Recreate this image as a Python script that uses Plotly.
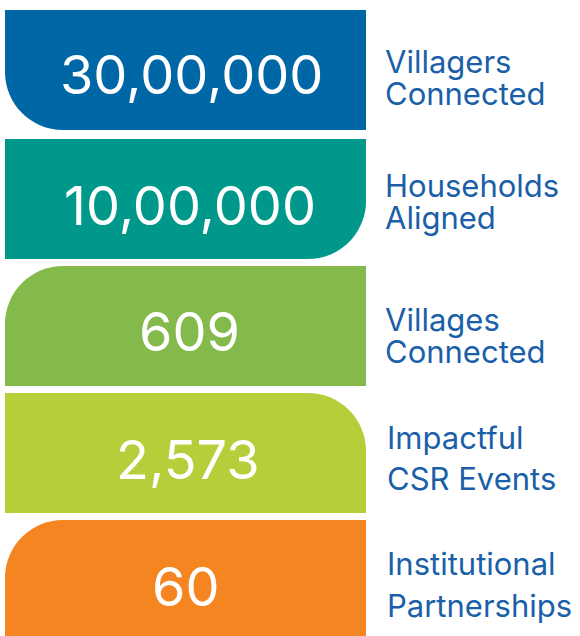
import plotly.graph_objects as go

# ---- data ----
values = ["30,00,000", "10,00,000", "609", "2,573", "60"]
labels = [["Villagers", "Connected"],
          ["Households", "Aligned"],
          ["Villages", "Connected"],
          ["Impactful", "CSR Events"],
          ["Institutional", "Partnerships"]]
colors = ["#0067A6", "#00988A", "#83BA4B", "#B4CF3A", "#F58521"]
rounded = ["bl", "br", "tl", "tr", "tl"]

# ---- layout (pixel space) ----
W, H = 580, 636
tops = [10, 139, 266, 393, 520]
bottoms = [130, 259, 386, 513, 640]
x0, x1 = 5, 366
R = 58
K = 0.5523

num_x = [191, 190, 189, 188, 186]
num_y = [74, 205, 331, 459, 586]
lab_y = [[61, 93], [185, 217], [319, 351], [437, 478], [563, 605]]
lab_x = [383, 383, 383, 385, 385]


def block_path(xa, xb, ya, yb, corner, r):
    k = r * (1 - K)
    if corner == "bl":
        return (f"M{xa},{ya} L{xb},{ya} L{xb},{yb} L{xa+r},{yb} "
                f"C{xa+k},{yb} {xa},{yb-k} {xa},{yb-r} Z")
    if corner == "br":
        return (f"M{xa},{ya} L{xb},{ya} L{xb},{yb-r} "
                f"C{xb},{yb-k} {xb-k},{yb} {xb-r},{yb} L{xa},{yb} Z")
    if corner == "tl":
        return (f"M{xa},{ya+r} C{xa},{ya+k} {xa+k},{ya} {xa+r},{ya} "
                f"L{xb},{ya} L{xb},{yb} L{xa},{yb} Z")
    # tr
    return (f"M{xa},{ya} L{xb-r},{ya} C{xb-k},{ya} {xb},{ya+k} {xb},{ya+r} "
            f"L{xb},{yb} L{xa},{yb} Z")


fig = go.Figure()
fig.add_trace(go.Scatter(x=[0, W], y=[0, H], mode="markers",
                         marker=dict(opacity=0), hoverinfo="skip", showlegend=False))

shapes = []
annotations = []
for i, v in enumerate(values):
    shapes.append(dict(type="path", xref="x", yref="y",
                       path=block_path(x0, x1, tops[i], bottoms[i], rounded[i], R),
                       fillcolor=colors[i], line=dict(width=0), layer="below"))
    annotations.append(dict(x=num_x[i], y=num_y[i], xref="x", yref="y", text=v,
                            showarrow=False, xanchor="center", yanchor="middle",
                            font=dict(family="Inter", size=54, color="white")))
    for j, line in enumerate(labels[i]):
        annotations.append(dict(x=lab_x[i], y=lab_y[i][j], xref="x", yref="y",
                                text=line, showarrow=False, xanchor="left",
                                yanchor="middle",
                                font=dict(family="Inter", size=31, color="#1A5FA8")))

fig.update_layout(
    width=W, height=H, margin=dict(l=0, r=0, t=0, b=0),
    paper_bgcolor="white", plot_bgcolor="white",
    xaxis=dict(range=[0, W], visible=False, fixedrange=True),
    yaxis=dict(range=[H, 0], visible=False, fixedrange=True),
    shapes=shapes, annotations=annotations, showlegend=False,
)
fig.write_html("out.html", config={"displayModeBar": False},
               post_script="document.body.style.margin='0';")
